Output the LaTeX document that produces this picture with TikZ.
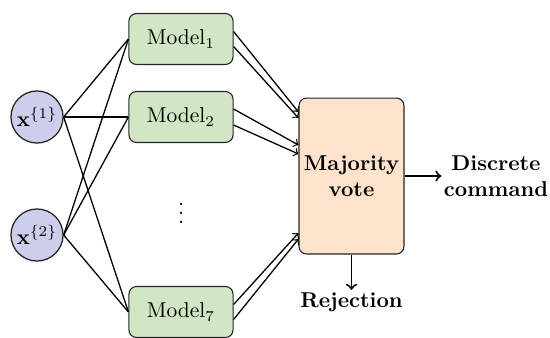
\documentclass[tikz,border=0pt]{standalone}
\usetikzlibrary{calc}
\definecolor{modelgreen}{RGB}{208,230,197}
\definecolor{inputblue}{RGB}{204,206,236}
\definecolor{votepeach}{RGB}{253,226,204}
\begin{document}
\begin{tikzpicture}[x=0.465pt,y=-0.465pt,
  model/.style={draw=black!85, fill=modelgreen, rounded corners=3.5pt, minimum width=48.4pt, minimum height=23.7pt, inner sep=0pt, line width=0.5pt},
  inp/.style={circle, draw=black!85, fill=inputblue, minimum size=24.2pt, inner sep=0pt, line width=0.6pt},
  vote/.style={draw=black!85, fill=votepeach, rounded corners=3.5pt, minimum width=48.8pt, minimum height=72.5pt, align=center, font=\bfseries, inner sep=0pt, line width=0.5pt},
  outtext/.style={align=center, font=\bfseries, inner sep=1pt},
  link/.style={line width=0.6pt},
  feed/.style={line width=0.6pt, ->},
  outarrow/.style={line width=0.9pt, ->}]
\useasboundingbox (0,0) rectangle (550,337);
\node[model] (m1) at (181,39) {Model$_1$};
\node[model] (m2) at (181,117) {Model$_2$};
\node[model] (m7) at (181,312) {Model$_7$};
\node[inp] (x1) at (37,117) {$\mathbf{x}^{\{1\}}$};
\node[inp] (x2) at (37,235) {$\mathbf{x}^{\{2\}}$};
\node (dots) at (181,207) {$\vdots$};
\node[vote] (v) at (351.5,176) {Majority\\vote};
\node[outtext] (dc) at (496,176) {Discrete\\command};
\node[outtext] (rej) at (351.5,302) {Rejection};
\foreach \s in {x1,x2} \foreach \t in {m1,m2,m7} \draw[link] (\s.east) -- (\t.west);
\draw[feed] ($(m1.east)+(0,-7.5)$) -- ($(v.west)+(0,-64)$);
\draw[feed] ($(m1.east)+(0,7.5)$) -- ($(v.west)+(0,-58)$);
\draw[feed] ($(m2.east)+(0,-8)$) -- ($(v.west)+(0,-31)$);
\draw[feed] ($(m2.east)+(0,8)$) -- ($(v.west)+(0,-22)$);
\draw[feed] ($(m7.east)+(0,-7.5)$) -- ($(v.west)+(0,57)$);
\draw[feed] ($(m7.east)+(0,7.5)$) -- ($(v.west)+(0,63)$);
\draw[outarrow] (v.east) -- (v.east -| dc.west);
\draw[outarrow] (v.south) -- (rej.north);
\end{tikzpicture}
\end{document}
